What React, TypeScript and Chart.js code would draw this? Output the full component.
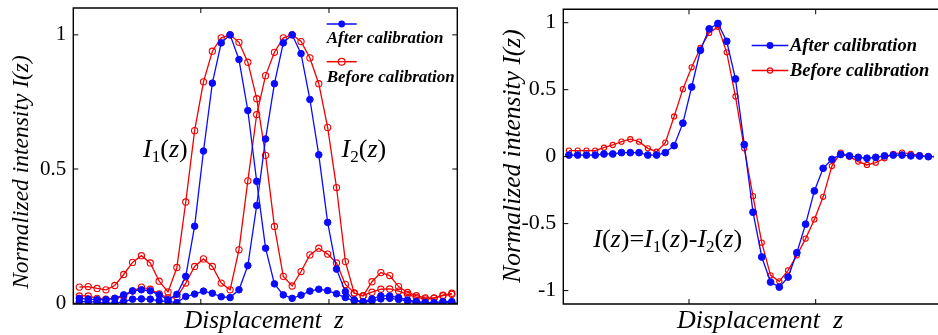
import React, { useEffect, useRef } from "react";
import { Chart, registerables } from "chart.js";

Chart.register(...registerables);

// ---------- data ----------
// sample index along the displacement axis
const SAMPLES = [
  0, 1, 2, 3, 4, 5, 6, 7, 8, 9, 10, 11, 12, 13, 14, 15, 16, 17, 18, 19, 20, 21,
  22, 23, 24, 25, 26, 27, 28, 29, 30, 31, 32, 33, 34, 35, 36, 37, 38, 39, 40, 41, 42,
];

// left panel: normalized intensities I1(z), I2(z)
const AFTER_I1 = [
  0.018, 0.015, 0.013, 0.013, 0.018, 0.031, 0.046, 0.05, 0.046, 0.031, 0.013,
  0.033, 0.1, 0.287, 0.567, 0.82, 0.97, 1.0, 0.908, 0.718, 0.454, 0.205, 0.072,
  0.031, 0.018, 0.03, 0.045, 0.052, 0.047, 0.035, 0.021, 0.009, 0.004, 0.008,
  0.016, 0.018, 0.014, 0.008, 0.002, 0.0, 0.0, 0.002, 0.002,
];
const AFTER_I2 = [
  0.006, 0.006, 0.004, 0.0, 0.0, 0.006, 0.015, 0.016, 0.015, 0.009, 0.006,
  0.002, 0.025, 0.034, 0.045, 0.037, 0.024, 0.021, 0.05, 0.14, 0.364, 0.612,
  0.818, 0.97, 1.0, 0.93, 0.759, 0.553, 0.301, 0.127, 0.043, 0.012, 0.006,
  0.016, 0.027, 0.027, 0.021, 0.012, 0.006, 0.003, 0.002, 0.006, 0.006,
];
const BEFORE_I1 = [
  0.06, 0.062, 0.055, 0.05, 0.066, 0.107, 0.152, 0.177, 0.15, 0.082, 0.042,
  0.133, 0.377, 0.643, 0.825, 0.939, 0.989, 1.0, 0.972, 0.898, 0.762, 0.551,
  0.286, 0.1, 0.064, 0.118, 0.18, 0.205, 0.183, 0.15, 0.07, 0.038, 0.028, 0.041,
  0.052, 0.053, 0.045, 0.033, 0.022, 0.016, 0.018, 0.028, 0.033,
];
const BEFORE_I2 = [
  0.027, 0.027, 0.018, 0.015, 0.018, 0.025, 0.045, 0.06, 0.052, 0.035, 0.02,
  0.022, 0.075, 0.137, 0.165, 0.137, 0.075, 0.05, 0.199, 0.456, 0.703, 0.848,
  0.935, 0.989, 1.0, 0.975, 0.914, 0.818, 0.655, 0.431, 0.155, 0.037, 0.027,
  0.08, 0.114, 0.103, 0.062, 0.04, 0.028, 0.02, 0.02, 0.03, 0.037,
];

// right panel: I(z) = I1(z) - I2(z)
const AFTER_DIFF = [
  0.012, 0.012, 0.012, 0.012, 0.02, 0.02, 0.03, 0.03, 0.03, 0.012, 0.012, 0.03,
  0.082, 0.25, 0.52, 0.794, 0.954, 0.994, 0.861, 0.58, 0.09, -0.415, -0.749,
  -0.936, -0.974, -0.899, -0.717, -0.504, -0.256, -0.087, -0.02, 0.016, 0.006,
  -0.005, -0.012, -0.005, 0.006, 0.012, 0.012, 0.006, 0.005, 0.0, 0.0,
];
const BEFORE_DIFF = [
  0.045, 0.045, 0.045, 0.045, 0.067, 0.087, 0.112, 0.13, 0.112, 0.062, 0.037,
  0.105, 0.3, 0.504, 0.667, 0.811, 0.924, 0.969, 0.779, 0.449, 0.062, -0.295,
  -0.642, -0.886, -0.931, -0.849, -0.737, -0.612, -0.469, -0.3, -0.07, 0.03, 0.0,
  -0.037, -0.062, -0.045, -0.012, 0.02, 0.03, 0.02, 0.012, 0.0, 0.0,
];

const SERIES_AFTER = "After calibration";
const SERIES_BEFORE = "Before calibration";
const X_TITLE = "Displacement  z";
const Y_TITLE = "Normalized intensity I(z)";

const X_TICKS = [13.7, 28.15];
const LEFT_Y_TICKS = [0, 0.5, 1];
const RIGHT_Y_TICKS = [-1, -0.5, 0, 0.5, 1];

// ---------- styles ----------
const BLUE = "#0a0aff";
const RED = "#f20000";
const SERIF = "'Liberation Serif', 'Times New Roman', serif";

type Part = { t: string; italic?: boolean; sub?: boolean };
const NOTE_I1: Part[] = [
  { t: "I", italic: true },
  { t: "1", sub: true },
  { t: "(" },
  { t: "z", italic: true },
  { t: ")" },
];
const NOTE_I2: Part[] = [
  { t: "I", italic: true },
  { t: "2", sub: true },
  { t: "(" },
  { t: "z", italic: true },
  { t: ")" },
];
const NOTE_DIFF: Part[] = [
  { t: "I", italic: true },
  { t: "(" },
  { t: "z", italic: true },
  { t: ")=" },
  ...NOTE_I1,
  { t: "-" },
  ...NOTE_I2,
];

type Decor = {
  frameRight: boolean;
  yTitle: { x: number; y: number; size: number };
  xTitle: { x: number; y: number; size: number };
  legend: {
    x0: number;
    x1: number;
    y1: number;
    y2: number;
    tx: number;
    ty1: number;
    ty2: number;
    size: number;
    rBlue: number;
    rRed: number;
  };
  notes: { x: number; y: number; size: number; parts: Part[] }[];
};

function drawRich(ctx: CanvasRenderingContext2D, x: number, y: number, parts: Part[], size: number) {
  let cx = x;
  ctx.textAlign = "left";
  ctx.textBaseline = "alphabetic";
  for (const p of parts) {
    const s = p.sub ? size * 0.66 : size;
    ctx.font = `${p.italic ? "italic " : ""}${s}px ${SERIF}`;
    ctx.fillText(p.t, cx, y + (p.sub ? size * 0.2 : 0));
    cx += ctx.measureText(p.t).width;
  }
}

function decorPlugin(d: Decor) {
  return {
    id: "decor",
    afterDraw(chart: any) {
      const { ctx, chartArea: a, scales } = chart;
      const xs = scales.x;
      const ys = scales.y;
      ctx.save();
      ctx.strokeStyle = "#000";
      ctx.lineWidth = 1.4;
      ctx.beginPath();
      if (d.frameRight) {
        ctx.rect(a.left, a.top, a.right - a.left, a.bottom - a.top);
      } else {
        ctx.moveTo(a.right + 20, a.top);
        ctx.lineTo(a.left, a.top);
        ctx.lineTo(a.left, a.bottom);
        ctx.lineTo(a.right + 20, a.bottom);
      }
      ctx.stroke();
      // inward tick marks
      ctx.lineWidth = 1;
      ctx.beginPath();
      for (const v of X_TICKS) {
        const px = xs.getPixelForValue(v);
        ctx.moveTo(px, a.bottom);
        ctx.lineTo(px, a.bottom - 5);
        ctx.moveTo(px, a.top);
        ctx.lineTo(px, a.top + 5);
      }
      for (const t of ys.ticks) {
        const py = ys.getPixelForValue(t.value);
        ctx.moveTo(a.left, py);
        ctx.lineTo(a.left + 5, py);
        if (d.frameRight) {
          ctx.moveTo(a.right, py);
          ctx.lineTo(a.right - 5, py);
        }
      }
      ctx.stroke();

      ctx.fillStyle = "#000";
      // axis titles
      ctx.save();
      ctx.translate(d.yTitle.x, d.yTitle.y);
      ctx.rotate(-Math.PI / 2);
      ctx.textAlign = "center";
      ctx.textBaseline = "middle";
      ctx.font = `italic ${d.yTitle.size}px ${SERIF}`;
      ctx.fillText(Y_TITLE, 0, 0);
      ctx.restore();
      ctx.textAlign = "center";
      ctx.textBaseline = "alphabetic";
      ctx.font = `italic ${d.xTitle.size}px ${SERIF}`;
      ctx.fillText(X_TITLE, d.xTitle.x, d.xTitle.y);

      // legend
      const L = d.legend;
      const mid = (L.x0 + L.x1) / 2;
      ctx.lineWidth = 1.5;
      ctx.strokeStyle = BLUE;
      ctx.fillStyle = BLUE;
      ctx.beginPath();
      ctx.moveTo(L.x0, L.y1);
      ctx.lineTo(L.x1, L.y1);
      ctx.stroke();
      ctx.beginPath();
      ctx.arc(mid, L.y1, L.rBlue, 0, Math.PI * 2);
      ctx.fill();
      ctx.strokeStyle = RED;
      ctx.beginPath();
      ctx.moveTo(L.x0, L.y2);
      ctx.lineTo(L.x1, L.y2);
      ctx.stroke();
      ctx.lineWidth = 1.2;
      ctx.fillStyle = "#fff";
      ctx.beginPath();
      ctx.arc(mid, L.y2, L.rRed, 0, Math.PI * 2);
      ctx.fill();
      ctx.stroke();
      ctx.beginPath();
      ctx.moveTo(mid - L.rRed, L.y2);
      ctx.lineTo(mid + L.rRed, L.y2);
      ctx.stroke();
      ctx.fillStyle = "#000";
      ctx.textAlign = "left";
      ctx.font = `italic bold ${L.size}px ${SERIF}`;
      ctx.fillText(SERIES_AFTER, L.tx, L.ty1);
      ctx.fillText(SERIES_BEFORE, L.tx, L.ty2);

      // annotations
      for (const n of d.notes) drawRich(ctx, n.x, n.y, n.parts, n.size);
      ctx.restore();
    },
  };
}

function series(values: number[]) {
  return SAMPLES.map((s, i) => ({ x: s, y: values[i] }));
}

function lineSet(label: string, values: number[], color: string, filled: boolean, r: number) {
  return {
    label,
    data: series(values),
    borderColor: color,
    backgroundColor: color,
    borderWidth: 1.3,
    pointRadius: r,
    pointHoverRadius: r,
    pointBorderWidth: filled ? 1 : 1.1,
    pointBackgroundColor: filled ? color : "rgba(255,255,255,0)",
    pointBorderColor: color,
    tension: 0,
  };
}

function makeChart(
  canvas: HTMLCanvasElement,
  datasets: any[],
  opts: {
    xMin: number;
    xMax: number;
    yMin: number;
    yMax: number;
    yTicks: number[];
    yWidth: number;
    tickSize: number;
    padding: { left: number; right: number; top: number; bottom: number };
    decor: Decor;
  }
) {
  const noPad = (s: any) => {
    s.paddingTop = 0;
    s.paddingBottom = 0;
    s.paddingLeft = 0;
    s.paddingRight = 0;
  };
  return new Chart(canvas, {
    type: "line",
    data: { datasets },
    options: {
      animation: false,
      responsive: false,
      devicePixelRatio: 1,
      events: [],
      layout: { padding: opts.padding },
      plugins: { legend: { display: false }, tooltip: { enabled: false } },
      scales: {
        x: {
          type: "linear",
          min: opts.xMin,
          max: opts.xMax,
          grid: { display: false, drawTicks: false },
          border: { display: false },
          ticks: { display: false },
          afterBuildTicks: (s: any) => {
            s.ticks = X_TICKS.map((v) => ({ value: v }));
          },
          afterFit: (s: any) => {
            s.height = 31;
            noPad(s);
          },
        },
        y: {
          type: "linear",
          min: opts.yMin,
          max: opts.yMax,
          grid: { display: false, drawTicks: false },
          border: { display: false },
          ticks: {
            color: "#000",
            padding: 7,
            font: { family: SERIF, size: opts.tickSize },
            callback: (v: any) => String(v),
          },
          afterBuildTicks: (s: any) => {
            s.ticks = opts.yTicks.map((v) => ({ value: v }));
          },
          afterFit: (s: any) => {
            s.width = opts.yWidth;
            noPad(s);
          },
        },
      },
    } as any,
    plugins: [decorPlugin(opts.decor)],
  });
}

export default function App() {
  const leftRef = useRef<HTMLCanvasElement>(null);
  const rightRef = useRef<HTMLCanvasElement>(null);

  useEffect(() => {
    const left = makeChart(
      leftRef.current!,
      [
        lineSet(SERIES_AFTER, AFTER_I1, BLUE, true, 3.3),
        lineSet(SERIES_AFTER, AFTER_I2, BLUE, true, 3.3),
        lineSet(SERIES_BEFORE, BEFORE_I1, RED, false, 3.1),
        lineSet(SERIES_BEFORE, BEFORE_I2, RED, false, 3.1),
      ],
      {
        xMin: -0.68,
        xMax: 42.62,
        yMin: -0.003,
        yMax: 1.1,
        yTicks: LEFT_Y_TICKS,
        yWidth: 73.3,
        tickSize: 21,
        padding: { left: 0, right: 12.7, top: 8, bottom: 0 },
        decor: {
          frameRight: true,
          yTitle: { x: 22, y: 172, size: 23.5 },
          xTitle: { x: 264, y: 328, size: 25 },
          legend: {
            x0: 326.7,
            x1: 356.7,
            y1: 24,
            y2: 61.7,
            tx: 326.7,
            ty1: 43.3,
            ty2: 81.7,
            size: 17,
            rBlue: 3.4,
            rRed: 3.4,
          },
          notes: [
            { x: 143, y: 157, size: 26, parts: NOTE_I1 },
            { x: 341.5, y: 157, size: 26, parts: NOTE_I2 },
          ],
        },
      }
    );
    const right = makeChart(
      rightRef.current!,
      [
        lineSet(SERIES_AFTER, AFTER_DIFF, BLUE, true, 3.4),
        lineSet(SERIES_BEFORE, BEFORE_DIFF, RED, false, 2.6),
      ],
      {
        xMin: -0.64,
        xMax: 41.6,
        yMin: -1.1,
        yMax: 1.1,
        yTicks: RIGHT_Y_TICKS,
        yWidth: 93.3,
        tickSize: 22,
        padding: { left: 0, right: 0, top: 9.3, bottom: 0 },
        decor: {
          frameRight: false,
          yTitle: { x: 43.3, y: 156, size: 25.5 },
          xTitle: { x: 290, y: 328.3, size: 26 },
          legend: {
            x0: 281.7,
            x1: 318.3,
            y1: 45.5,
            y2: 70.5,
            tx: 320,
            ty1: 50.7,
            ty2: 76,
            size: 18.5,
            rBlue: 3.4,
            rRed: 2.6,
          },
          notes: [{ x: 123.3, y: 246.7, size: 26, parts: NOTE_DIFF }],
        },
      }
    );
    return () => {
      left.destroy();
      right.destroy();
    };
  }, []);

  return (
    <div
      style={{
        position: "absolute",
        left: 0,
        top: 0,
        width: 938,
        height: 335,
        overflow: "hidden",
        background: "#fff",
      }}
    >
      <canvas
        ref={leftRef}
        width={470}
        height={335}
        style={{ position: "absolute", left: 0, top: 0, width: 470, height: 335 }}
      />
      <canvas
        ref={rightRef}
        width={468}
        height={335}
        style={{ position: "absolute", left: 470, top: 0, width: 468, height: 335 }}
      />
    </div>
  );
}
